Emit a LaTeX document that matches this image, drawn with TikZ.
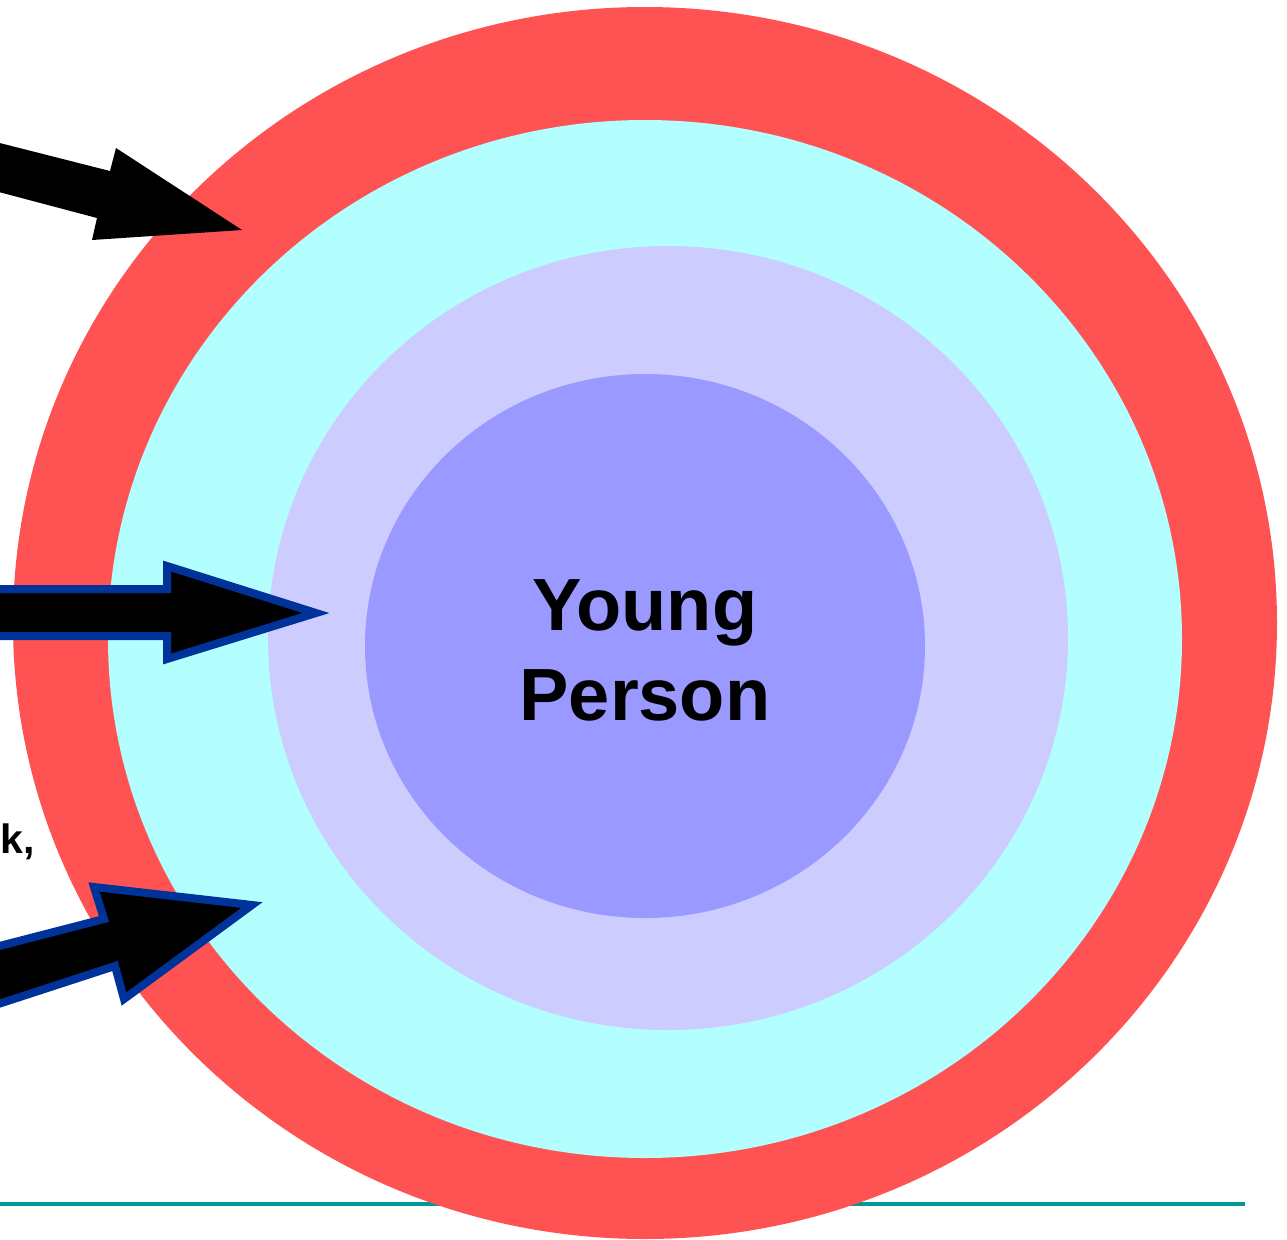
\documentclass[tikz,border=0pt]{standalone}
\usepackage{fontspec}
\setmainfont{Liberation Sans}
\definecolor{ringred}{HTML}{FF5252}
\definecolor{ringcyan}{HTML}{B3FFFF}
\definecolor{ringlav}{HTML}{CCCCFF}
\definecolor{ringcore}{HTML}{9999FF}
\definecolor{arrowblue}{HTML}{003399}
\definecolor{rule}{HTML}{009999}
\begin{document}
\begin{tikzpicture}[x=0.5pt,y=-0.5pt,
  ring/.style={draw=none},
  blockarrow/.style={fill=black,draw=none},
  outlinedarrow/.style={fill=black,draw=arrowblue,line width=4pt,line join=miter},
  lbl/.style={font=\bfseries\fontsize{37}{45}\selectfont,align=center,inner sep=0pt}]
\useasboundingbox (0,0) rectangle (1287,1239);
\clip (0,0) rectangle (1287,1239);
% baseline rule
\draw[rule,line width=2pt] (0,1204) -- (1245,1204);
% rings
\fill[ringred] (645,623) ellipse [x radius=632,y radius=616];
\fill[ringcyan] (645,639) ellipse [x radius=537,y radius=519];
\fill[ringlav] (668,638) ellipse [x radius=400,y radius=392];
\fill[ringcore] (645,646) ellipse [x radius=280,y radius=272];
\node[lbl] (yp) at (645,650) {Young\\Person};
% arrows
\fill[blockarrow] (-20,138) -- (110,171) -- (116,148) -- (242,230) -- (92,240) -- (97,218) -- (-20,187) -- cycle;
\draw[outlinedarrow] (-20,589) -- (167,589) -- (167,566) -- (316,613) -- (167,659) -- (167,636) -- (-20,636) -- cycle;
\draw[outlinedarrow] (-20,951) -- (104,919) -- (94,887) -- (252,905) -- (124,999) -- (115,966) -- (-20,1010) -- cycle;
\node[font=\bfseries\fontsize{20.5}{24}\selectfont,anchor=base east,inner sep=0pt] (kt) at (35,853) {k,};
\end{tikzpicture}
\end{document}
